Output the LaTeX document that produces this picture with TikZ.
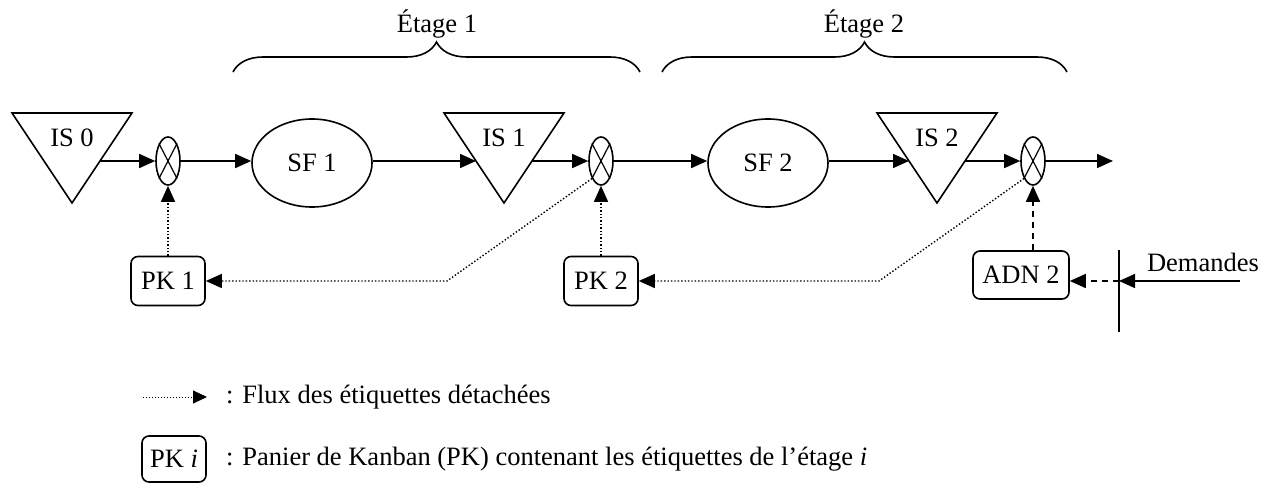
\documentclass[tikz,border=0pt]{standalone}
\usepackage{fontspec}
\setmainfont{Liberation Serif}
\usetikzlibrary{shapes.geometric,arrows.meta,decorations.pathreplacing,calc}
\tikzset{
  lbl/.style={inner sep=0pt,font=\fontsize{26.5}{31}\selectfont},
  mult/.style={ellipse,draw,line width=1.6pt,minimum width=24pt,minimum height=48pt,inner sep=0pt},
  sfnode/.style={ellipse,draw,line width=1.6pt,minimum width=120pt,minimum height=88pt,inner sep=0pt,font=\fontsize{26.5}{31}\selectfont},
  pknode/.style={rectangle,rounded corners=7pt,draw,line width=1.6pt,minimum width=74pt,minimum height=49pt,inner sep=0pt,font=\fontsize{26.5}{31}\selectfont},
  tri/.style={draw,line width=1.6pt,line join=miter},
  flow/.style={line width=1.6pt,-{Triangle[length=16pt,width=14pt]}},
  dotflow/.style={line width=1.4pt,dotted,-{Triangle[length=16pt,width=14pt]}},
  dashflow/.style={line width=1.6pt,dash pattern=on 6pt off 5pt,-{Triangle[length=16pt,width=14pt]}},
  bracestyle/.style={line width=1.6pt,decorate,decoration={brace,amplitude=30pt,aspect=0.5}},
}
\begin{document}
\begin{tikzpicture}[x=1pt,y=-1pt]
\useasboundingbox (0,0) rectangle (1270,487);
% triangles
\draw[tri] (12,113) -- (132,113) -- (72,203) -- cycle;
\node[lbl] (is0) at (72,138) {IS 0};
\coordinate (is0r) at (100,161);
\draw[tri] (444,113) -- (564,113) -- (504,203) -- cycle;
\node[lbl] (is1) at (504,138) {IS 1};
\coordinate (is1l) at (476,161);
\coordinate (is1r) at (532,161);
\draw[tri] (877,113) -- (997,113) -- (937,203) -- cycle;
\node[lbl] (is2) at (937,138) {IS 2};
\coordinate (is2l) at (909,161);
\coordinate (is2r) at (965,161);
% multipliers
\foreach \n/\x in {m1/168,m2/601,m3/1033}{
  \node[mult] (\n) at (\x,161) {};
  \draw[line width=1.2pt] (\n.north west) -- (\n.south east) (\n.north east) -- (\n.south west);
}
% SF
\node[sfnode] (sf1) at (312,163) {SF 1};
\node[sfnode] (sf2) at (768,163) {SF 2};
% main flow
\coordinate (out) at (1113,161);
\draw[flow] (is0r) -- (m1.west);
\draw[flow] (m1.east) -- (sf1.west |- m1.east);
\draw[flow] (sf1.east |- m1.east) -- (is1l);
\draw[flow] (is1r) -- (m2.west);
\draw[flow] (m2.east) -- (sf2.west |- m2.east);
\draw[flow] (sf2.east |- m2.east) -- (is2l);
\draw[flow] (is2r) -- (m3.west);
\draw[flow] (m3.east) -- (out);
% PK boxes
\node[pknode] (pk1) at (168,281) {PK 1};
\node[pknode] (pk2) at (601,281) {PK 2};
\node[pknode,minimum width=96pt,minimum height=48pt] (adn) at (1021,275) {ADN 2};
\draw[dotflow] (pk1.north) -- (m1.south);
\draw[dotflow] (pk2.north) -- (m2.south);
\coordinate (c1) at (447,281);
\coordinate (c2) at (879,281);
\draw[dotflow] (m2.south west) -- (c1) -- (pk1.east);
\draw[dotflow] (m3.south west) -- (c2) -- (pk2.east);
\draw[dashflow] (m3.south |- adn.north) -- (m3.south);
% demandes
\coordinate (bartop) at (1119,250);
\coordinate (barbot) at (1119,332);
\coordinate (bar) at (1119,281);
\coordinate (dem) at (1240,281);
\draw[line width=1.6pt] (bartop) -- (barbot);
\draw[flow] (dem) -- (bar);
\draw[dashflow] (bar) -- (bar -| adn.east);
\node[lbl] (demtxt) at (1203,262) {Demandes};
% braces
\coordinate (b1l) at (233,72);
\coordinate (b1r) at (640,72);
\coordinate (b2l) at (662,72);
\coordinate (b2r) at (1067,72);
\draw[bracestyle] (b1l) -- (b1r);
\draw[bracestyle] (b2l) -- (b2r);
\node[lbl] (et1) at (437,24) {Étage 1};
\node[lbl] (et2) at (864,24) {Étage 2};
% legend
\coordinate (lga) at (143,397);
\coordinate (lgb) at (207,397);
\draw[line width=1pt,dotted,-{Triangle[length=14pt,width=13pt]}] (lga) -- (lgb);
\node[lbl,anchor=west] (lt1) at (226,397) {: Flux des étiquettes détachées};
\node[pknode,minimum width=64pt,minimum height=46pt] (pki) at (174,459) {PK \textit{i}};
\node[lbl,anchor=west] (lt2) at (226,459) {: Panier de Kanban (PK) contenant les étiquettes de l’étage \textit{i}};
\end{tikzpicture}
\end{document}
